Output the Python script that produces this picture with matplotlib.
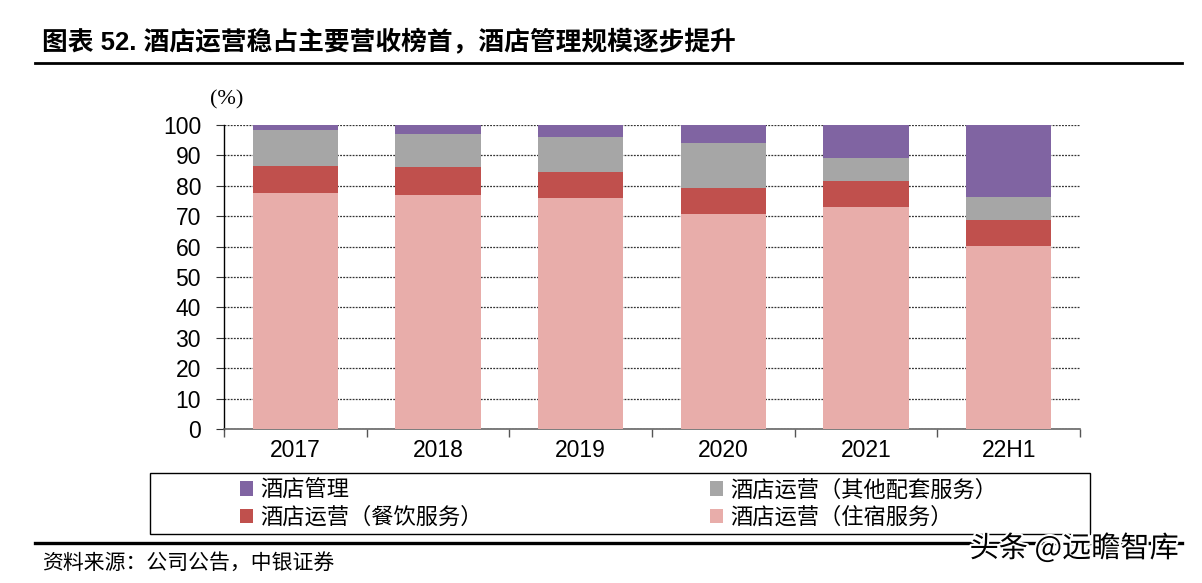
import matplotlib
matplotlib.use("Agg")
import matplotlib.pyplot as plt
import matplotlib.patheffects as pe
from matplotlib.patches import Rectangle, Patch
from matplotlib.lines import Line2D
import numpy as np

categories = ["2017", "2018", "2019", "2020", "2021", "22H1"]
lodging = [77.5, 77.1, 75.9, 70.6, 72.9, 60.2]      # 酒店运营（住宿服务）
food = [9.1, 9.2, 8.7, 8.6, 8.7, 8.6]               # 酒店运营（餐饮服务）
other = [11.8, 10.7, 11.5, 14.9, 7.4, 7.4]          # 酒店运营（其他配套服务）
mgmt = [1.6, 3.0, 3.9, 5.9, 11.0, 23.8]             # 酒店管理
yticks = list(range(0, 101, 10))

labels = {
    "mgmt": "酒店管理",
    "other": "酒店运营（其他配套服务）",
    "food": "酒店运营（餐饮服务）",
    "lodging": "酒店运营（住宿服务）",
}
colors = {
    "mgmt": "#8064A2",
    "other": "#A6A6A6",
    "food": "#C0504D",
    "lodging": "#E8ADAA",
}

CJK = ["Noto Sans CJK SC", "DejaVu Sans"]
LAT = ["Liberation Sans", "Noto Sans CJK SC"]
plt.rcParams["font.family"] = CJK

W, H = 1202, 583
fig = plt.figure(figsize=(W / 100, H / 100), dpi=100)

def fx(px):
    return px / W

def fy(py):
    return 1 - py / H

ax = fig.add_axes([fx(224), fy(429), fx(1080) - fx(224), fy(125) - fy(429)])

x = np.arange(len(categories))
bw = 0.6
b = np.zeros(len(categories))
for key, vals in [("lodging", lodging), ("food", food), ("other", other), ("mgmt", mgmt)]:
    ax.bar(x, vals, bw, bottom=b, color=colors[key], zorder=3, linewidth=0)
    b = b + np.array(vals)

ax.set_xlim(-0.5, len(categories) - 0.5)
ax.set_ylim(0, 100)
ax.set_yticks(yticks)
ax.set_yticklabels([str(v) for v in yticks], fontfamily=LAT, fontsize=16.5)
ax.yaxis.grid(True, linestyle=(0, (1.5, 1)), color="#333333", linewidth=0.9, zorder=0)
ax.set_axisbelow(True)

ax.set_xticks(np.arange(-0.5, len(categories), 1.0))
ax.set_xticklabels([])
ax.set_xticks(x, minor=True)
ax.set_xticklabels(categories, minor=True, fontfamily=LAT, fontsize=16.5)
ax.tick_params(axis="x", which="major", direction="out", length=5.5, width=1.0, color="#555555")
ax.tick_params(axis="x", which="minor", length=0, pad=7)
ax.tick_params(axis="y", direction="out", length=5.5, width=0.8, color="#333333", pad=11)

for s in ["top", "right"]:
    ax.spines[s].set_visible(False)
ax.spines["left"].set_color("black")
ax.spines["left"].set_linewidth(1.0)
ax.spines["bottom"].set_color("#666666")
ax.spines["bottom"].set_linewidth(1.2)

# unit label
fig.text(fx(227), fy(100), "(%)", ha="center", va="center", fontsize=16, family="Liberation Serif")

# title + rules
fig.text(fx(42), fy(42), "图表 52. 酒店运营稳占主要营收榜首，酒店管理规模逐步提升",
         ha="left", va="center", fontsize=18.5, fontweight="bold", family=LAT)
fig.add_artist(Line2D([fx(35), fx(1182)], [fy(63), fy(63)], color="black", lw=2.0))
fig.add_artist(Line2D([fx(35), fx(1182)], [fy(543), fy(543)], color="black", lw=2.4))

# legend box
fig.add_artist(Rectangle((fx(150), fy(534)), fx(1090) - fx(150), fy(473) - fy(534),
                         fill=False, edgecolor="black", lw=1.0))

def handle(k):
    return Patch(facecolor=colors[k], edgecolor="none")

leg_kw = dict(frameon=False, fontsize=16, handlelength=0.6, handleheight=0.6,
              handletextpad=0.3, labelspacing=0.2, borderpad=0, loc="center left")
leg1 = fig.legend([handle("mgmt"), handle("food")], [labels["mgmt"], labels["food"]],
                  bbox_to_anchor=(fx(229), fy(503.5)), **leg_kw)
leg2 = fig.legend([handle("other"), handle("lodging")], [labels["other"], labels["lodging"]],
                  bbox_to_anchor=(fx(699), fy(503.5)), **leg_kw)

# source
fig.text(fx(42), fy(563), "资料来源：公司公告，中银证券", ha="left", va="center",
         fontsize=15, style="italic")

# watermark
fig.text(fx(1074), fy(549), "头条 @远瞻智库", ha="center", va="center", fontsize=21,
         color="black", path_effects=[pe.withStroke(linewidth=3, foreground="white")])

fig.savefig("out.png", dpi=100)
